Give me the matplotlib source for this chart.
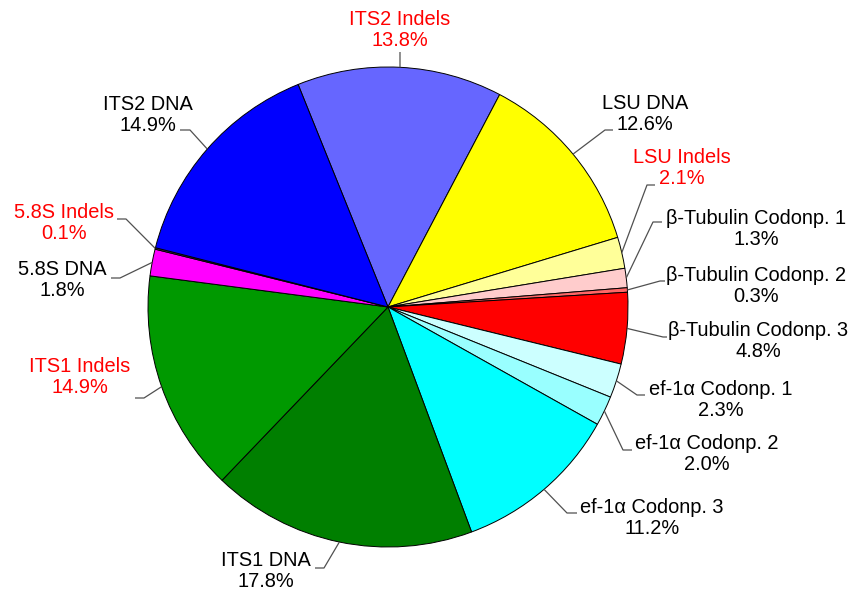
import numpy as np
import matplotlib.pyplot as plt

# partitions of the alignment (percent of characters)
names = ["ITS2 Indels", "LSU DNA", "LSU Indels",
         "\u03b2-Tubulin Codonp. 1", "\u03b2-Tubulin Codonp. 2", "\u03b2-Tubulin Codonp. 3",
         "ef-1\u03b1 Codonp. 1", "ef-1\u03b1 Codonp. 2", "ef-1\u03b1 Codonp. 3",
         "ITS1 DNA", "ITS1 Indels", "5.8S DNA", "5.8S Indels", "ITS2 DNA"]
values = [13.8, 12.6, 2.1, 1.3, 0.3, 4.8, 2.3, 2.0, 11.2, 17.8, 14.9, 1.8, 0.1, 14.9]
colors = ["#6666FF", "#FFFF00", "#FFFF99", "#FFCCCC", "#FF6666", "#FF0000",
          "#CCFFFF", "#99FFFF", "#00FFFF", "#007F00", "#009900", "#FF00FF",
          "#663366", "#0000FF"]
text_colors = ["red", "black", "red", "black", "black", "black", "black", "black",
               "black", "black", "red", "black", "red", "black"]

# label block centre, elbow and end of the leader line (pixels from top-left)
label_xy = [(400, 30), (645, 114), (682, 168), (756, 229), (756, 286), (758, 341),
            (721, 400), (707, 454), (652, 518), (266, 571), (80, 377), (62, 280),
            (64, 223), (148, 115)]
elbow_xy = [(400, 52), (605, 130), (647, 185), (653, 222), (660, 281), (663, 337),
            (637, 395), (623, 450), (567, 513), (324, 568), (144, 398), (120, 278),
            (126, 219), (190, 130)]
end_x = [400, 613, 655, 662, 665, 667, 645, 632, 577, 315, 135, 111, 117, 180]

W, H = 859, 594
cx, cy, r = 388, H - 307, 240

fig = plt.figure(figsize=(W / 100, H / 100), dpi=100)
ax = fig.add_axes([0, 0, 1, 1])
plt.rcParams['font.family'] = ['Liberation Sans', 'DejaVu Sans']

wedges, _ = ax.pie(values, colors=colors, startangle=112, counterclock=False,
                   center=(cx, cy), radius=r,
                   wedgeprops=dict(edgecolor="black", linewidth=0.7))

for w, name, v, tc, lxy, exy, ex in zip(wedges, names, values, text_colors,
                                        label_xy, elbow_xy, end_x):
    mid = np.deg2rad((w.theta1 + w.theta2) / 2)
    px, py = cx + r * np.cos(mid), cy + r * np.sin(mid)
    ax.plot([px, exy[0], ex], [py, H - exy[1], H - exy[1]],
            color="#505050", lw=0.9, solid_capstyle="butt")
    ax.text(lxy[0], H - lxy[1], f"{name}\n{v:.1f}%", ha="center", va="center",
            multialignment="center", color=tc, fontsize=14.4, linespacing=1.15)

ax.set_xlim(0, W)
ax.set_ylim(0, H)
ax.set_aspect("equal")
ax.axis("off")

fig.savefig("out.png", dpi=100)
